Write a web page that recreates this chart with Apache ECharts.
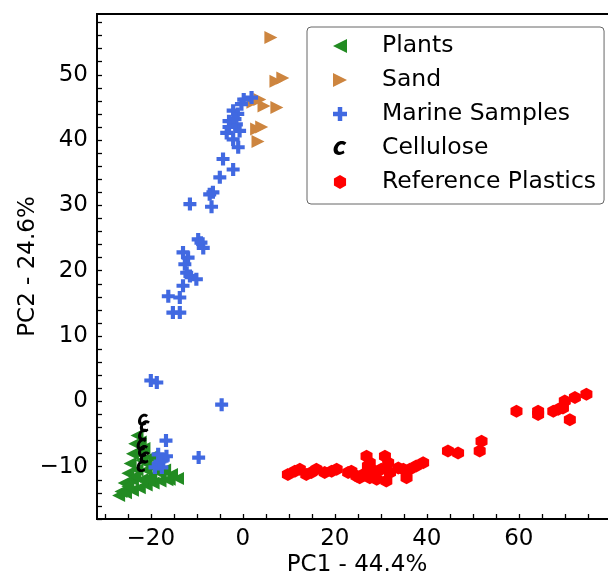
<!DOCTYPE html>
<html>
<head>
<meta charset="utf-8">
<script src="https://cdn.jsdelivr.net/npm/echarts@6/dist/echarts.min.js"></script>
<style>html,body{margin:0;padding:0;background:#fff}#c{width:608px;height:574px}</style>
</head>
<body>
<div id="c"></div>
<script>
const seriesNames = ['Plants', 'Sand', 'Marine Samples', 'Cellulose', 'Reference Plastics'];
const xTickLabels = [-20, 0, 20, 40, 60];
const yTickLabels = [-10, 0, 10, 20, 30, 40, 50];
const xMinorTicks = [-30,-25,-20,-15,-10,-5,0,5,10,15,20,25,30,35,40,45,50,55,60,65,70,75,80];
const yMinorTicks = [-18,-16,-14,-12,-10,-8,-6,-4,-2,0,2,4,6,8,10,12,14,16,18,20,22,24,26,28,30,32,34,36,38,40,42,44,46,48,50,52,54,56,58];

const plants = [
  [-23,-5.2],[-23.5,-6.5],[-24,-8],[-24.5,-9.5],[-25,-11],[-25.8,-12.5],[-26.5,-13.8],[-27,-14.4],
  [-25.5,-14],[-24,-13.6],[-22.5,-13.2],[-21,-12.8],[-19.5,-12.5],[-18,-12.2],[-16,-11.9],[-14.2,-11.8],
  [-15.5,-11.2],[-17,-10.5],[-18.5,-9.6],[-20,-8.5],[-21.5,-7.2],[-22.3,-6.2],
  [-22,-9],[-23,-10.5],[-21,-10.5],[-24,-12],[-22,-12],[-20,-11.5],[-18,-11],[-22.5,-8],
  [-23.5,-11.5],[-25,-13],[-19,-10.2],[-21,-9.5],[-20.5,-12],[-16.5,-12]
];
const sand = [
  [6.1,55.7],[7.2,49.0],[8.7,49.5],[3.7,46.2],[4.6,45.2],[7.4,45.0],[3.0,41.7],[3.3,39.8],[2.2,45.8],[4.1,42.0]
];
const marine = [
  [1.9,46.5],[-0.3,45.5],[-2.1,44.5],[-1.1,44.0],[-1.7,43.2],[-1.4,42.4],[-3.5,41.1],[-0.7,41.4],
  [-2.1,40.1],[-1.0,38.9],[-4.3,37.1],[-2.1,35.5],[-5.0,34.3],[-6.5,32.0],[-11.5,30.2],[-6.8,29.8],
  [0.2,46.2],[-3.0,42.9],[-3.0,42.0],[-7.2,31.7],
  [-9.7,24.8],[-8.6,23.5],[-9.1,24.3],[-13.0,22.8],[-11.9,22.0],[-12.2,19.7],[-10.1,18.7],[-11.5,19.2],
  [-13.0,17.7],[-16.2,16.1],[-13.7,15.9],[-15.2,13.6],[-13.7,13.6],[-12.6,21.0],
  [-20.0,3.2],[-18.7,2.9],[-4.6,-0.5],[-9.6,-8.6],[-16.7,-6.0],
  [-18.4,-8.1],[-17.3,-8.9],[-18.4,-9.6],[-16.6,-8.4],[-19.1,-10.1],[-17.6,-10.1],[-18.0,-9.2]
];
const cellulose = [
  [-21.7,-2.8],[-21.3,-3.8],[-21.7,-5.1],[-22.0,-6.6],[-21.7,-7.6],[-21.3,-8.6],[-22.0,-9.9]
];
const plastics = [
  [9.8,-11.2],[12.4,-10.4],[13.8,-11.2],[16.0,-10.4],[17.8,-10.9],[20.4,-10.4],[22.9,-10.9],[25.4,-11.7],
  [26.9,-8.4],[27.2,-9.9],[27.6,-11.7],[29.1,-11.9],[30.9,-8.4],[31.6,-9.4],[30.1,-10.4],[32.0,-10.9],
  [31.2,-12.2],[33.8,-10.2],[35.6,-11.7],[36.3,-10.4],[37.7,-9.9],[39.2,-9.4],
  [11.3,-10.7],[14.9,-10.9],[19.3,-10.7],[24.7,-11.4],[26.2,-11.2],[28.7,-10.7],[23.6,-10.7],[34.9,-10.4],[27.6,-9.4],
  [44.6,-7.6],[46.8,-7.9],[51.9,-6.1],[51.5,-7.6],
  [59.5,-1.5],[64.2,-1.5],[64.2,-2.0],[67.5,-1.5],[68.6,-1.2],[70.0,0.05],[69.6,-1.0],[71.1,-2.8],[72.2,0.6],[74.7,1.1]
];

const SYM_LEFT = 'path://M0,5 L10,0 L10,10 Z';
const SYM_RIGHT = 'path://M0,0 L10,5 L0,10 Z';
const SYM_PLUS = 'path://M3.4,0 L6.6,0 L6.6,3.4 L10,3.4 L10,6.6 L6.6,6.6 L6.6,10 L3.4,10 L3.4,6.6 L0,6.6 L0,3.4 L3.4,3.4 Z';
const SYM_HEX = 'path://M5,0 L9.33,2.5 L9.33,7.5 L5,10 L0.67,7.5 L0.67,2.5 Z';
const SYM_C = 'path://M9.2,2.2 C7.8,0.8 4.8,0.6 3.0,2.4 C0.6,4.6 0.3,8.4 2.6,9.6 C4.4,10.5 6.6,9.8 8.0,8.8 L7.4,7.2 C6.2,8.0 4.8,8.3 4.1,7.7 C3.2,6.9 3.5,4.8 4.7,3.8 C5.8,2.9 7.0,3.0 7.8,3.8 Z';

const toMinus = v => String(v).replace('-', '\u2212');
const FONT = 'DejaVu Sans';
const FS = 23;

const chart = echarts.init(document.getElementById('c'), null, {renderer: 'canvas'});
chart.setOption({
  animation: false,
  backgroundColor: '#fff',
  grid: {left: 97, top: 14, width: 520, height: 505, outerBoundsMode: 'none', containLabel: false,
         show: true, borderColor: '#000', borderWidth: 1.8, backgroundColor: 'transparent'},
  xAxis: {
    type: 'value', min: -31.7, max: 81.35,
    name: 'PC1 - 44.4%', nameLocation: 'middle', nameGap: 35, nameMoveOverlap: false,
    nameTextStyle: {fontFamily: FONT, fontSize: FS, color: '#000'},
    axisLine: {show: true, onZero: false, lineStyle: {color: '#000', width: 1.8}},
    axisTick: {show: true, inside: true, length: 5, customValues: xMinorTicks, lineStyle: {color: '#000', width: 1.3}},
    axisLabel: {customValues: xTickLabels, formatter: toMinus, fontFamily: FONT, fontSize: FS, color: '#000', margin: 9},
    splitLine: {show: false}
  },
  yAxis: {
    type: 'value', min: -18, max: 59.3,
    name: 'PC2 - 24.6%', nameLocation: 'middle', nameGap: 57, nameMoveOverlap: false,
    nameTextStyle: {fontFamily: FONT, fontSize: FS, color: '#000'},
    axisLine: {show: true, onZero: false, lineStyle: {color: '#000', width: 1.8}},
    axisTick: {show: true, inside: true, length: 5, customValues: yMinorTicks, lineStyle: {color: '#000', width: 1.3}},
    axisLabel: {customValues: yTickLabels, formatter: toMinus, fontFamily: FONT, fontSize: FS, color: '#000', margin: 9},
    splitLine: {show: false}
  },
  legend: {
    orient: 'vertical', left: 307, top: 27,
    padding: [7, 8, 10, 26],
    itemWidth: 14, itemHeight: 14, itemGap: 10,
    backgroundColor: '#fff', borderColor: '#666', borderWidth: 1, borderRadius: 4,
    textStyle: {fontFamily: FONT, fontSize: 23.5, color: '#000', lineHeight: 24, padding: [0, 0, 0, 30]},
    data: seriesNames
  },
  series: [
    {name: seriesNames[0], type: 'scatter', data: plants, symbol: SYM_LEFT, symbolSize: [13, 13], itemStyle: {color: '#228B22', opacity: 1}},
    {name: seriesNames[1], type: 'scatter', data: sand, symbol: SYM_RIGHT, symbolSize: [13, 13], itemStyle: {color: '#CD853F', opacity: 1}},
    {name: seriesNames[2], type: 'scatter', data: marine, symbol: SYM_PLUS, symbolSize: [13, 13], itemStyle: {color: '#4169E1', opacity: 1}},
    {name: seriesNames[3], type: 'scatter', data: cellulose, symbol: SYM_C, symbolSize: [10, 12], itemStyle: {color: '#000', opacity: 1}},
    {name: seriesNames[4], type: 'scatter', data: plastics, symbol: SYM_HEX, symbolSize: [12, 13], itemStyle: {color: '#FF0000', opacity: 1}}
  ]
});
</script>
</body>
</html>
